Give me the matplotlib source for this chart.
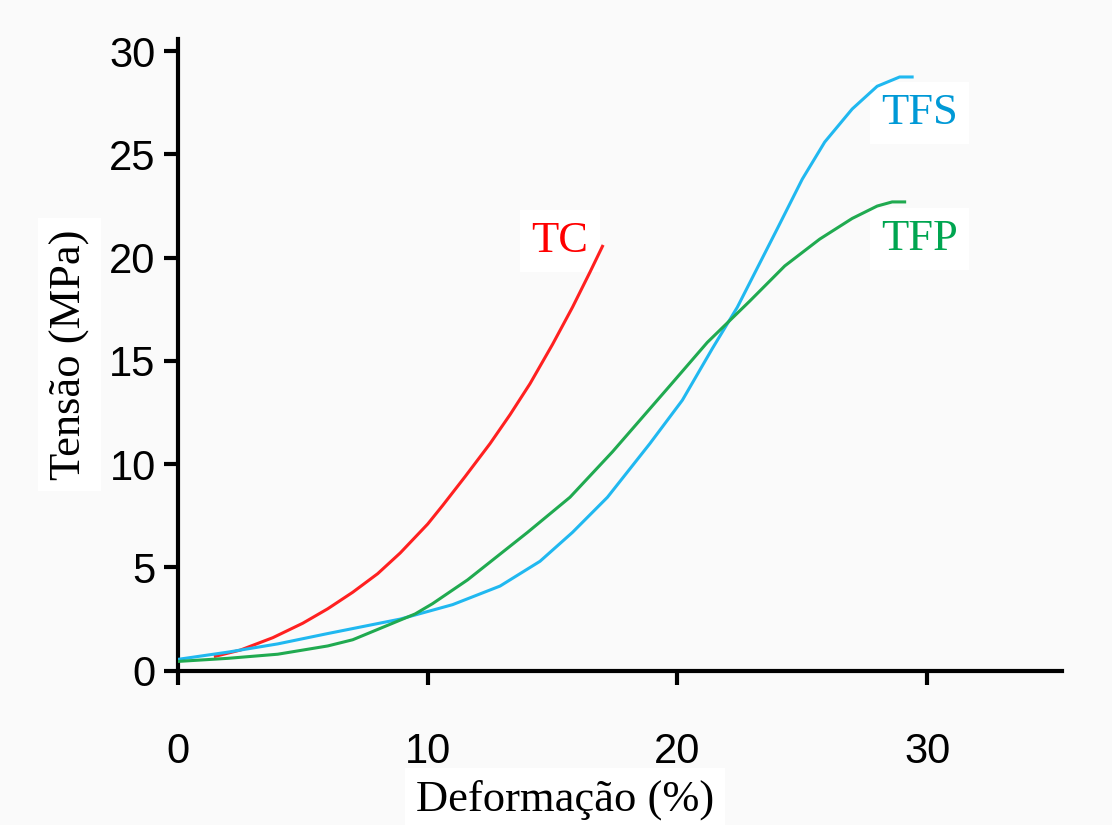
import matplotlib.pyplot as plt

# curvas tensao x deformacao
tc_x = [1.5, 2.5, 3.8, 5, 6, 7, 8, 8.9, 10, 10.6, 11.5, 12.5, 13.3, 14.1, 15, 15.8, 16.5, 17.0]
tc_y = [0.7, 1.0, 1.6, 2.3, 3.0, 3.8, 4.7, 5.7, 7.1, 8.0, 9.4, 11.0, 12.4, 13.9, 15.8, 17.6, 19.3, 20.55]

tfs_x = [0, 2, 4, 6, 8.9, 11, 12.9, 14.5, 15.8, 17.2, 18.9, 20.2, 21.4, 22.4, 24, 25.0, 25.9, 27.0, 28.0, 28.9, 29.4]
tfs_y = [0.55, 0.9, 1.3, 1.8, 2.5, 3.2, 4.1, 5.3, 6.7, 8.4, 11.0, 13.1, 15.6, 17.6, 21.4, 23.8, 25.6, 27.2, 28.3, 28.75, 28.75]

tfp_x = [0, 2, 4, 6, 7, 8, 9.5, 10.2, 11.6, 14, 15.7, 17.4, 19.7, 21.2, 22.9, 24.3, 25.7, 27, 28, 28.6, 29.1]
tfp_y = [0.45, 0.6, 0.8, 1.2, 1.5, 2.0, 2.75, 3.25, 4.4, 6.7, 8.4, 10.6, 13.8, 15.9, 17.9, 19.6, 20.9, 21.9, 22.5, 22.7, 22.7]

labels = ['TC', 'TFS', 'TFP']
line_colors = ['#ff2020', '#20b8f0', '#20aa50']
text_colors = ['#ff0000', '#0099d6', '#00a550']

bg = '#fafafa'
fig = plt.figure(figsize=(11.12, 8.25), dpi=100, facecolor=bg)
ax = fig.add_axes([0.160, 0.187, 0.795, 0.766], facecolor=bg)

ax.plot(tc_x, tc_y, color=line_colors[0], lw=2.2, zorder=5)
ax.plot(tfs_x, tfs_y, color=line_colors[1], lw=2.2, zorder=5)
ax.plot(tfp_x, tfp_y, color=line_colors[2], lw=2.2, zorder=5)

ax.set_xlim(0, 35.4)
ax.set_ylim(0, 30.6)
ax.set_xticks([0, 10, 20, 30])
ax.set_yticks([0, 5, 10, 15, 20, 25, 30])

for s in ['top', 'right']:
    ax.spines[s].set_visible(False)
for s in ['left', 'bottom']:
    ax.spines[s].set_linewidth(3)

ax.tick_params(axis='y', direction='out', length=10, width=3, pad=6,
               labelsize=30, labelfontfamily='Liberation Sans')
ax.tick_params(axis='x', direction='out', length=10, width=3, pad=34,
               labelsize=30, labelfontfamily='Liberation Sans')

box = dict(facecolor='white', edgecolor='none', pad=8)
ax.set_xlabel('Deformação (%)', fontsize=32, family='Liberation Serif',
              labelpad=4, bbox=box)
ax.xaxis.set_label_coords(0.438, -0.172)
ax.set_ylabel('Tensão (MPa)', fontsize=32, family='Liberation Serif',
              labelpad=14, bbox=box)

# rotulos das curvas
ax.text(15.3, 20.8, labels[0], color=text_colors[0], fontsize=32,
        family='Liberation Serif', ha='center', va='center', bbox=box, zorder=3)
ax.text(29.7, 27.0, labels[1], color=text_colors[1], fontsize=32,
        family='Liberation Serif', ha='center', va='center', bbox=box, zorder=3)
ax.text(29.7, 20.9, labels[2], color=text_colors[2], fontsize=32,
        family='Liberation Serif', ha='center', va='center', bbox=box, zorder=3)

fig.savefig('out.png', dpi=100, facecolor=bg)
